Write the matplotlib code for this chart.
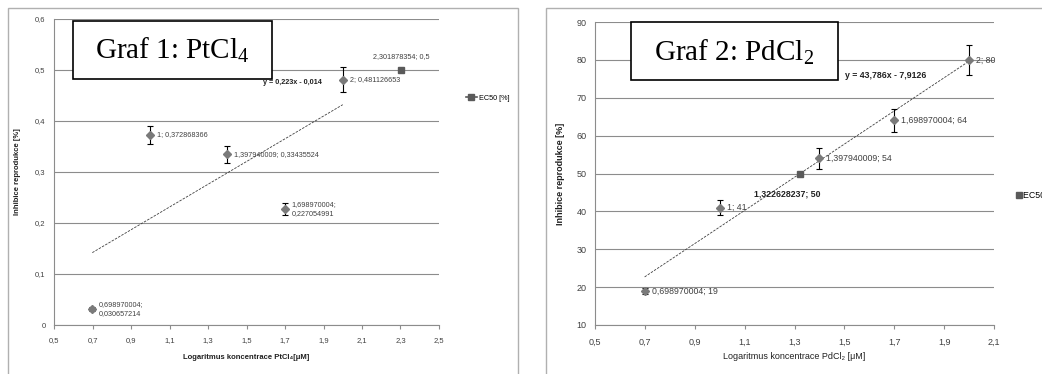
import numpy as np
import matplotlib
matplotlib.use("Agg")
import matplotlib.pyplot as plt
from matplotlib.patches import Rectangle
from matplotlib.lines import Line2D
from matplotlib.ticker import FuncFormatter, FixedLocator

# ── Data ─────────────────────────────────────────────────────────────────────
pt_x = [0.698970004, 1.0, 1.397940009, 1.698970004, 2.0]
pt_y = [0.030657214, 0.372868366, 0.33435524, 0.227054991, 0.481126653]
pt_err = [0.004, 0.018, 0.016, 0.012, 0.024]
pt_labels = ["0,698970004;\n0,030657214", "1; 0,372868366", "1,397940009; 0,33435524",
             "1,698970004;\n0,227054991", "2; 0,481126653"]
pt_ec50 = (2.301878354, 0.5)
pt_ec50_label = "2,301878354; 0,5"
pt_fit = (0.223, -0.014)
pt_xticks = [0.5, 0.7, 0.9, 1.1, 1.3, 1.5, 1.7, 1.9, 2.1, 2.3, 2.5]
pt_yticks = [0, 0.1, 0.2, 0.3, 0.4, 0.5, 0.6]

pd_x = [0.698970004, 1.0, 1.397940009, 1.698970004, 2.0]
pd_y = [19, 41, 54, 64, 80]
pd_err = [0.8, 2.0, 2.8, 3.0, 4.0]
pd_labels = ["0,698970004; 19", "1; 41", "1,397940009; 54", "1,698970004; 64", "2; 80"]
pd_ec50 = (1.322628237, 50)
pd_ec50_label = "1,322628237; 50"
pd_fit = (43.786, -7.9126)
pd_xticks = [0.5, 0.7, 0.9, 1.1, 1.3, 1.5, 1.7, 1.9, 2.1]
pd_yticks = [10, 20, 30, 40, 50, 60, 70, 80, 90]

plt.rcParams.update({"font.family": "Liberation Sans",
                     "mathtext.fontset": "custom",
                     "mathtext.rm": "Liberation Serif",
                     "mathtext.it": "Liberation Serif:italic"})

W, H = 1042, 374
fig = plt.figure(figsize=(W / 100, H / 100), dpi=100)

def fx(px):
    return px / W

def fy(py):
    return 1 - py / H

one_dec = FuncFormatter(lambda v, p: "0" if abs(v) < 1e-9 else ("%.1f" % v).replace(".", ","))
integer = FuncFormatter(lambda v, p: "%d" % round(v))

# outer chart frames
for x0, x1 in [(8, 518), (546, 1060)]:
    fig.patches.append(Rectangle((fx(x0), fy(400)), fx(x1 - x0), (400 - 8) / H,
                                 transform=fig.transFigure, fill=False,
                                 edgecolor="#b0b0b0", lw=1.0))


def style_axes(ax, fs, xticks, yticks, yfmt):
    for s in ("top", "right"):
        ax.spines[s].set_visible(False)
    for s in ("left", "bottom"):
        ax.spines[s].set_color("#8c8c8c")
        ax.spines[s].set_linewidth(0.8)
    ax.yaxis.grid(True, color="#8c8c8c", lw=0.8)
    ax.set_axisbelow(True)
    ax.tick_params(axis="y", length=0, labelsize=fs, labelcolor="#404040", pad=6)
    ax.tick_params(axis="x", length=3, color="#8c8c8c", labelsize=fs,
                   labelcolor="#404040", pad=6)
    ax.xaxis.set_major_locator(FixedLocator(xticks))
    ax.yaxis.set_major_locator(FixedLocator(yticks))
    ax.xaxis.set_major_formatter(one_dec)
    ax.yaxis.set_major_formatter(yfmt)
    ax.set_xlim(xticks[0], xticks[-1])
    ax.set_ylim(yticks[0], yticks[-1])


def draw(ax, xs, ys, errs, labels, ec50, fit, fs, eq_pos, eq_text):
    ax.errorbar(xs, ys, yerr=errs, fmt="D", color="#7a7a7a", ms=4, mec="#7a7a7a",
                ecolor="black", elinewidth=0.8, capsize=2.2, capthick=0.8, zorder=4)
    for xv, yv, lab in zip(xs, ys, labels):
        ax.annotate(lab, (xv, yv), xytext=(5, 0), textcoords="offset points",
                    fontsize=fs, color="#404040", va="center", ha="left",
                    linespacing=1.4)
    ax.plot([ec50[0]], [ec50[1]], "s", color="#5a5a5a", ms=5, zorder=5)
    xf = np.array([xs[0], xs[-1]])
    ax.plot(xf, fit[0] * xf + fit[1], color="#404040", lw=0.6, ls=(0, (3, 1.5)))
    ax.text(eq_pos[0], eq_pos[1], eq_text, fontsize=fs, fontweight="bold",
            ha="center", va="center", color="#202020")


# ── Graf 1 ───────────────────────────────────────────────────────────────────
ax1 = fig.add_axes([fx(54), fy(325), fx(439 - 54), (325 - 19) / H])
style_axes(ax1, 5.5, pt_xticks, pt_yticks, one_dec)
draw(ax1, pt_x, pt_y, pt_err, pt_labels, pt_ec50, pt_fit, 5.2,
     (1.74, 0.475), "y = 0,223x - 0,014")
ax1.annotate(pt_ec50_label, pt_ec50, xytext=(0, 10), textcoords="offset points",
             fontsize=5.2, color="#404040", ha="center", va="center")
ax1.set_xlabel("Logaritmus koncentrace PtCl₄[μM]", fontsize=5.5, fontweight="bold",
               color="#202020", labelpad=7)
ax1.set_ylabel("Inhibice reprodukce [%]", fontsize=5.5, fontweight="bold",
               color="#202020", labelpad=10)
ax1.legend(handles=[Line2D([0], [0], color="#5a5a5a", marker="s", ms=4, lw=1.2,
                           label="EC50 [%]")],
           loc="center left", bbox_to_anchor=(fx(462), fy(98)),
           bbox_transform=fig.transFigure, frameon=False, fontsize=5.2,
           handlelength=1.6, handletextpad=0.2, borderpad=0)

fig.patches.append(Rectangle((fx(73), fy(79)), fx(272 - 73), (79 - 21) / H,
                             transform=fig.transFigure, facecolor="white",
                             edgecolor="black", lw=1.2, zorder=10))
fig.text(fx(172), fy(50), "Graf 1: PtCl$_4$", fontsize=21, family="Liberation Serif",
         ha="center", va="center", zorder=11)

# ── Graf 2 ───────────────────────────────────────────────────────────────────
ax2 = fig.add_axes([fx(595), fy(325), fx(994 - 595), (325 - 22) / H])
style_axes(ax2, 6.5, pd_xticks, pd_yticks, integer)
draw(ax2, pd_x, pd_y, pd_err, pd_labels, pd_ec50, pd_fit, 6.3,
     (1.667, 75.8), "y = 43,786x - 7,9126")
ax2.annotate(pd_ec50_label, pd_ec50, xytext=(-9, -15), textcoords="offset points",
             fontsize=6.3, fontweight="bold", color="#202020", ha="center", va="center")
ax2.set_xlabel("Logaritmus koncentrace PdCl₂ [μM]", fontsize=6.5, color="#202020",
               labelpad=4)
ax2.set_ylabel("Inhibice reprodukce [%]", fontsize=6.5, fontweight="bold",
               color="#202020", labelpad=8)
ax2.legend(handles=[Line2D([0], [0], color="#5a5a5a", marker="s", ms=5, lw=0,
                           label="EC50 [%]")],
           loc="center left", bbox_to_anchor=(fx(1012), fy(196)),
           bbox_transform=fig.transFigure, frameon=False, fontsize=6.3,
           handlelength=0.6, handletextpad=0.2, borderpad=0)

fig.patches.append(Rectangle((fx(631), fy(80)), fx(838 - 631), (80 - 22) / H,
                             transform=fig.transFigure, facecolor="white",
                             edgecolor="black", lw=1.2, zorder=10))
fig.text(fx(734), fy(52), "Graf 2: PdCl$_2$", fontsize=21, family="Liberation Serif",
         ha="center", va="center", zorder=11)

fig.savefig("out.png", dpi=100)
